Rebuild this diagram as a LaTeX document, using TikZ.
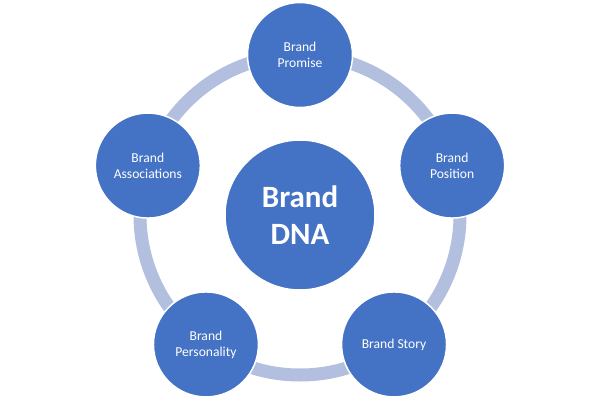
\documentclass[tikz,border=0pt]{standalone}
\usepackage{fontspec}
\setmainfont{Carlito}
\usepackage{tikz}
\usetikzlibrary{positioning}

\definecolor{dnablue}{RGB}{68,114,196}
\definecolor{ringblue}{RGB}{178,191,223}

\begin{document}
\begin{tikzpicture}[x=1pt,y=1pt,
  hub/.style={circle,fill=dnablue,draw=white,line width=1.5pt,minimum size=150pt,
    inner sep=0pt,align=center,text=white,font=\fontsize{31}{37}\selectfont\bfseries},
  petal/.style={circle,fill=dnablue,draw=white,line width=1.5pt,minimum size=105pt,
    inner sep=0pt,align=center,text=white,font=\fontsize{13.6}{16}\selectfont},
  ring/.style={draw=ringblue,line width=13pt}]
\useasboundingbox (0,0) rectangle (599,400);
\node[hub] (dna) at (300,185) {Brand\\DNA};
\draw[ring] (dna.center) circle[radius=160];
\foreach \ang/\name/\txt in {90/promise/Brand\\Promise, 18/position/Brand\\Position,
    -54/story/Brand Story, -126/personality/Brand\\Personality, 162/associations/Brand\\Associations}
  \node[petal] (\name) at ([shift={(\ang:160)}]dna.center) {\txt};
\end{tikzpicture}
\end{document}
